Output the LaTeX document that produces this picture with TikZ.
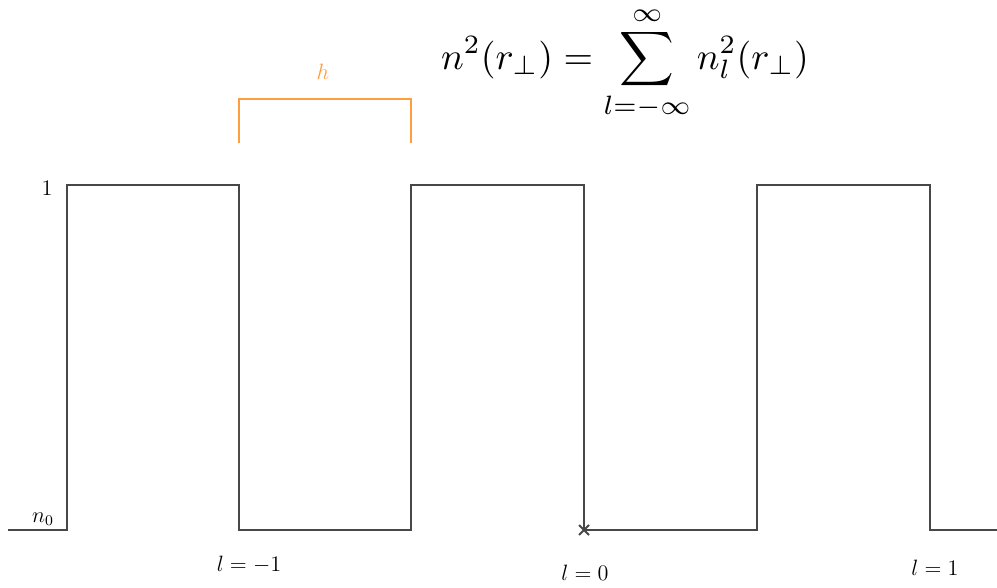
\documentclass[tikz,border=0pt]{standalone}
\usepackage{amsmath}
\usetikzlibrary{positioning}
\definecolor{wave}{rgb}{0.28,0.28,0.28}
\definecolor{brk}{rgb}{1,0.62,0.25}
\tikzstyle{wline}=[draw=wave,line width=1pt]
\tikzstyle{bline}=[draw=brk,line width=1pt]
\tikzstyle{lab}=[inner sep=1pt,font=\large]

\begin{document}
\begin{tikzpicture}[x=0.019cm,y=-0.019cm]
\useasboundingbox (0,0) rectangle (997,588);
% square wave
\draw [wline] (8,530) -- (67,530) -- (67,185) -- (239,185) -- (239,530) -- (411,530) -- (411,185) -- (584,185) -- (584,530) -- (757,530) -- (757,185) -- (930,185) -- (930,530) -- (997,530);
\draw [wline] (579,525) -- (589,535) (579,535) -- (589,525);
% bracket
\draw [bline] (239,143) -- (239,99) -- (411,99) -- (411,143);
\node (h) [lab, text=brk] at (323,72) {$h$};
\node (one) [lab] at (47,188) {$1$};
\node (nzero) [lab] at (43,519) {$n_0$};
\node (lm) [lab] at (249,565) {$l=-1$};
\node (lz) [lab] at (585,573) {$l=0$};
\node (lp) [lab] at (935,568) {$l=1$};
\node (eq) [scale=2.05] at (625,64) {$\displaystyle n^2(r_\perp)=\sum_{l=-\infty}^{\infty}n_l^2(r_\perp)$};
\end{tikzpicture}
\end{document}
